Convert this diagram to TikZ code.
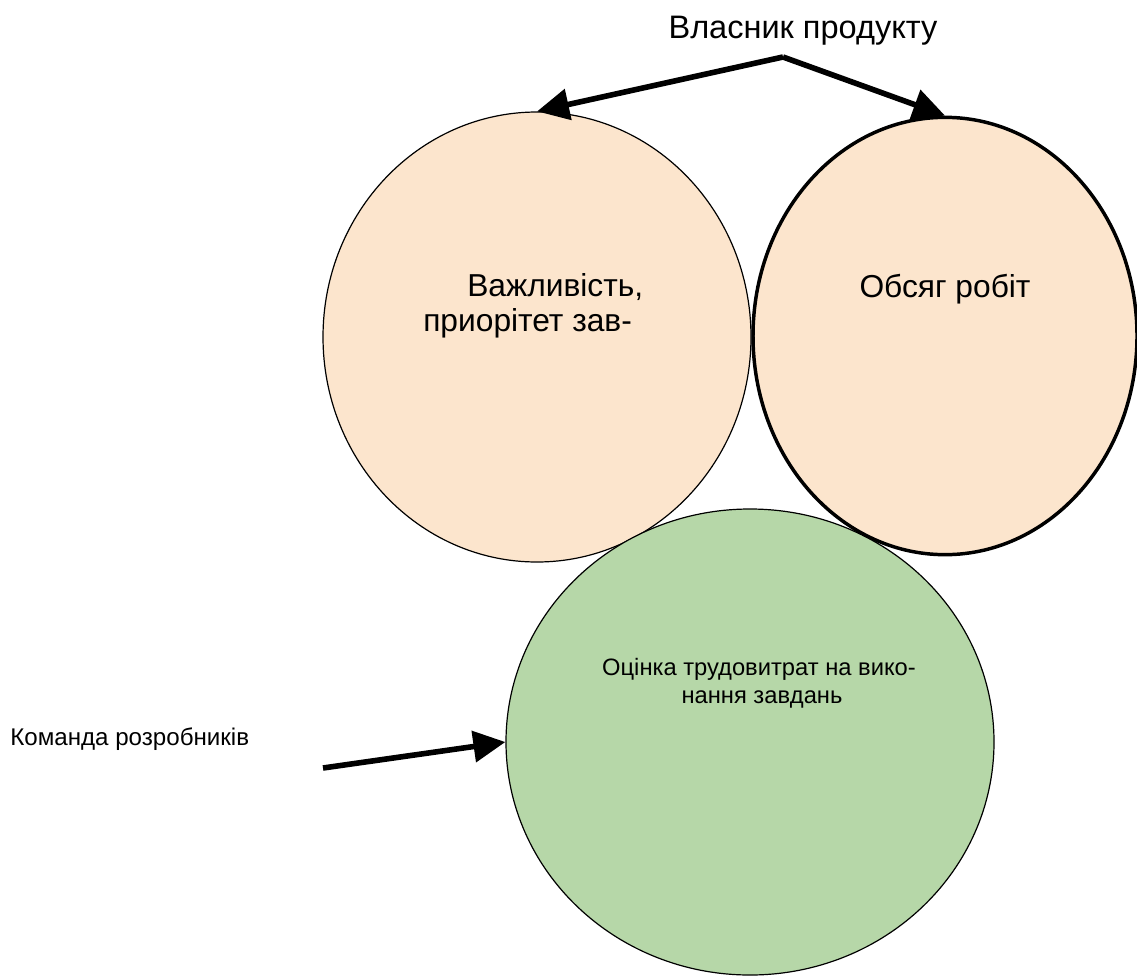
\documentclass[tikz,border=0pt]{standalone}
\usepackage{fontspec}
\setmainfont{Liberation Sans}
\usetikzlibrary{shapes.geometric,arrows.meta}
\definecolor{peach}{HTML}{FCE5CD}
\definecolor{sage}{HTML}{B6D7A8}
\tikzset{
  bubble/.style={ellipse, draw=black, inner sep=0pt, line width=0.9pt},
  bigtext/.style={font=\fontsize{23.8}{26}\selectfont, inner sep=0pt},
  smalltext/.style={font=\fontsize{17.8}{21}\selectfont, inner sep=0pt},
  heavyarrow/.style={line width=4.2pt, -{Triangle[length=24pt,width=23pt]}},
}
\begin{document}
\begin{tikzpicture}[x=0.75pt,y=-0.75pt]
  \useasboundingbox (0,0) rectangle (1137,978);

  % product backlog bubbles
  \node[bubble, fill=peach, minimum width=321pt, minimum height=337.5pt] (prio) at (537,337) {};
  \node[bubble, fill=peach, line width=2.6pt, minimum width=288pt, minimum height=328pt] (scope) at (945,336) {};
  % team estimate bubble
  \node[bubble, fill=sage, minimum width=366pt, minimum height=349.5pt] (effort) at (750,742) {};

  % labels inside bubbles
  \node[bigtext, anchor=base west] (prio1) at (467,296) {Важливість,};
  \node[bigtext, anchor=base west] (prio2) at (423,331) {приорітет зав-};
  \node[bigtext, anchor=base] (scopelbl) at (945,297) {Обсяг робіт};
  \node[smalltext, anchor=base] (effort1) at (759,675) {Оцінка трудовитрат на вико-};
  \node[smalltext, anchor=base] (effort2) at (762,703) {нання завдань};

  % roles
  \node[bigtext, font=\fontsize{24.4}{26}\selectfont, anchor=base] (owner) at (803,38) {Власник продукту};
  \coordinate (ownerpt) at (783,57);
  \node[smalltext, font=\fontsize{18.1}{21}\selectfont, anchor=base west] (team) at (10,745) {Команда розробників};
  \coordinate (teampt) at (323,768);

  % arrows
  \draw[heavyarrow] (ownerpt) -- (prio.north);
  \draw[heavyarrow] (ownerpt) -- (scope.north);
  \draw[heavyarrow] (teampt) -- (effort.west);
\end{tikzpicture}
\end{document}
